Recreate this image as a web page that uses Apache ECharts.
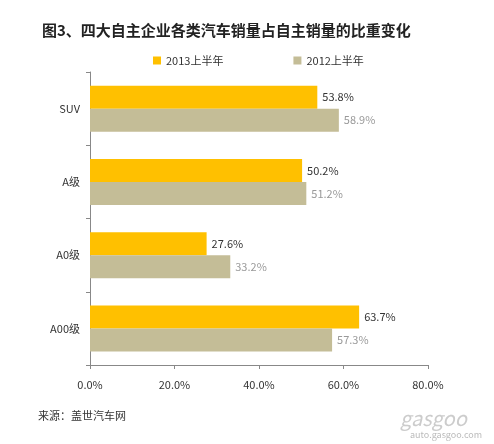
<!DOCTYPE html>
<html>
<head>
<meta charset="utf-8">
<script src="https://cdn.jsdelivr.net/npm/echarts@6/dist/echarts.min.js"></script>
<style>html,body{margin:0;padding:0;background:#fff}#main{width:494px;height:444px}</style>
</head>
<body>
<div id="main"></div>
<script>
// 数据
const categories = ['SUV', 'A级', 'A0级', 'A00级'];
const sales2013 = [53.8, 50.2, 27.6, 63.7];
const sales2012 = [58.9, 51.2, 33.2, 57.3];
const seriesNames = ['2013上半年', '2012上半年'];

const chart = echarts.init(document.getElementById('main'));
const font = '"Noto Sans CJK SC", "Liberation Sans", sans-serif';

var option = {
    animation: false,
    textStyle: { fontFamily: font },
    title: {
        text: '图3、四大自主企业各类汽车销量占自主销量的比重变化',
        left: 37, top: 18,
        textStyle: { fontSize: 15, fontWeight: 'bold', color: '#222', fontFamily: font }
    },
    legend: {
        data: seriesNames,
        top: 50, left: 148, itemGap: 70,
        itemWidth: 8, itemHeight: 8, icon: 'rect',
        textStyle: { fontSize: 11, color: '#333' }
    },
    grid: { left: 90, right: 66, top: 72, bottom: 79 },
    xAxis: {
        type: 'value', min: 0, max: 80, interval: 20,
        axisLabel: { formatter: v => v.toFixed(1) + '%', color: '#333', fontSize: 11, margin: 14 },
        splitLine: { show: false },
        axisLine: { show: true, lineStyle: { color: '#888' } },
        axisTick: { show: true, length: 4, lineStyle: { color: '#888' } }
    },
    yAxis: {
        type: 'category', data: categories, inverse: true,
        axisLabel: { color: '#333', fontSize: 11, margin: 10 },
        axisLine: { lineStyle: { color: '#888' } },
        axisTick: { show: true, length: 4, lineStyle: { color: '#888' } }
    },
    series: [
        {
            name: seriesNames[0], type: 'bar', data: sales2013,
            barWidth: 23, barGap: '0%',
            itemStyle: { color: '#FFC000' },
            label: { show: true, position: 'right', formatter: p => p.value.toFixed(1) + '%', color: '#333', fontSize: 11 }
        },
        {
            name: seriesNames[1], type: 'bar', data: sales2012,
            barWidth: 23,
            itemStyle: { color: '#C4BD97' },
            label: { show: true, position: 'right', formatter: p => p.value.toFixed(1) + '%', color: '#999', fontSize: 11 }
        }
    ],
    graphic: [
        { type: 'text', left: 38, top: 410, style: { text: '来源：盖世汽车网', fontSize: 11, fill: '#333', fontFamily: font } },
        { type: 'text', left: 400, top: 408, style: { text: 'gasgoo', fontSize: 20, fontStyle: 'italic', fill: '#ccc', fontFamily: font } },
        { type: 'text', left: 410, top: 430, style: { text: 'auto.gasgoo.com', fontSize: 9, fill: '#bbb', fontFamily: font } }
    ]
};
chart.setOption(option);
</script>
</body>
</html>
